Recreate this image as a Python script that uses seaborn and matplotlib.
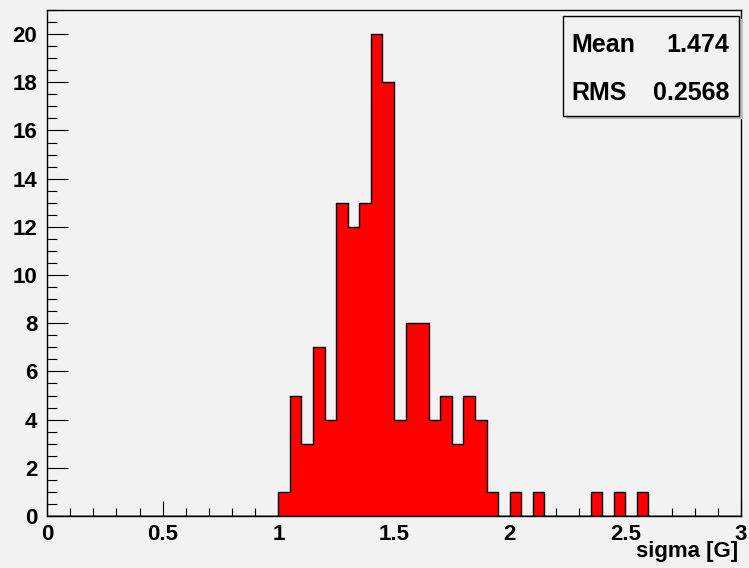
import numpy as np
import pandas as pd
import matplotlib
matplotlib.use("Agg")
import matplotlib.pyplot as plt
from matplotlib.patches import Rectangle
from matplotlib.ticker import MultipleLocator
import seaborn as sns

# ---- data ----
bin_width = 0.05
bin_lows = [1.00, 1.05, 1.10, 1.15, 1.20, 1.25, 1.30, 1.35, 1.40, 1.45,
            1.50, 1.55, 1.60, 1.65, 1.70, 1.75, 1.80, 1.85, 1.90,
            2.00, 2.10, 2.35, 2.45, 2.55]
counts = [1, 5, 3, 7, 4, 13, 12, 13, 20, 18,
          4, 8, 8, 4, 5, 3, 5, 4, 1,
          1, 1, 1, 1, 1]
x_label = "sigma [G]"
stat_names = ["Mean", "RMS"]
stat_values = ["1.474", "0.2568"]

bg = "#f2f2f2"
sns.set_style("ticks", {"axes.facecolor": bg, "figure.facecolor": bg})
plt.rcParams["font.family"] = ["Liberation Sans", "DejaVu Sans"]
plt.rcParams["font.weight"] = "bold"
plt.rcParams["text.color"] = "black"
plt.rcParams["xtick.color"] = "black"
plt.rcParams["ytick.color"] = "black"
plt.rcParams["xtick.labelcolor"] = "black"
plt.rcParams["ytick.labelcolor"] = "black"

df = pd.DataFrame({"x": np.array(bin_lows) + bin_width / 2, "w": counts})

fig = plt.figure(figsize=(7.49, 5.68), dpi=100)
fig.patch.set_facecolor(bg)
L, R, T, B = 47, 741, 10, 516
ax = fig.add_axes([L / 749, 1 - B / 568, (R - L) / 749, (B - T) / 568])
ax.set_facecolor(bg)

sns.histplot(data=df, x="x", weights="w", bins=60, binrange=(0, 3), element="step",
             fill=True, color="#ff0000", alpha=1.0, edgecolor="black",
             linewidth=1.0, ax=ax)

ax.set_xlabel("")
ax.set_ylabel("")
for s in ax.spines.values():
    s.set_color("black")
    s.set_linewidth(1.0)

ax.xaxis.set_major_locator(MultipleLocator(0.5))
ax.xaxis.set_minor_locator(MultipleLocator(0.1))
ax.yaxis.set_major_locator(MultipleLocator(2))
ax.yaxis.set_minor_locator(MultipleLocator(0.5))
ax.tick_params(axis="x", which="major", direction="in", length=11, width=0.8, pad=6, labelsize=16)
ax.tick_params(axis="x", which="minor", direction="in", length=5.5, width=0.8)
ax.tick_params(axis="y", which="major", direction="in", length=15, width=0.8, pad=7, labelsize=16)
ax.tick_params(axis="y", which="minor", direction="in", length=7, width=0.8)
ax.set_xlim(0, 3)
ax.set_ylim(0, 21)
xt = [v for v in ax.get_xticks() if 0 <= v <= 3]
yt = [v for v in ax.get_yticks() if 0 <= v <= 21]
ax.set_xticks(xt)
ax.set_xticklabels([f"{v:g}" for v in xt], fontweight="bold", color="black")
ax.set_yticks(yt)
ax.set_yticklabels([f"{v:g}" for v in yt], fontweight="bold", color="black")
ax.set_xlim(0, 3)
ax.set_ylim(0, 21)

fig.text(738 / 749, 1 - 552 / 568, x_label, ha="right", va="center",
         fontsize=16, fontweight="bold", color="black")

# stats box
W, H = R - L, B - T
bx0, bx1, by0, by1 = 563, 739, 16, 116
shadow = Rectangle(((bx0 + 3 - L) / W, 1 - (by1 + 3 - T) / H), (bx1 - bx0) / W, (by1 - by0) / H,
                   transform=ax.transAxes, facecolor="#bdbdbd", edgecolor="none", zorder=5, clip_on=False)
box = Rectangle(((bx0 - L) / W, 1 - (by1 - T) / H), (bx1 - bx0) / W, (by1 - by0) / H,
                transform=ax.transAxes, facecolor=bg, edgecolor="black", linewidth=1.0, zorder=6, clip_on=False)
ax.add_patch(shadow)
ax.add_patch(box)
for i, (n, v) in enumerate(zip(stat_names, stat_values)):
    yc = [45, 93][i]
    ax.text((571 - L) / W, 1 - (yc - T) / H, n, transform=ax.transAxes, ha="left", va="center",
            fontsize=18, fontweight="bold", zorder=7, color="black")
    ax.text((729 - L) / W, 1 - (yc - T) / H, v, transform=ax.transAxes, ha="right", va="center",
            fontsize=18, fontweight="bold", zorder=7, color="black")

fig.savefig("out.png", dpi=100, facecolor=bg)
